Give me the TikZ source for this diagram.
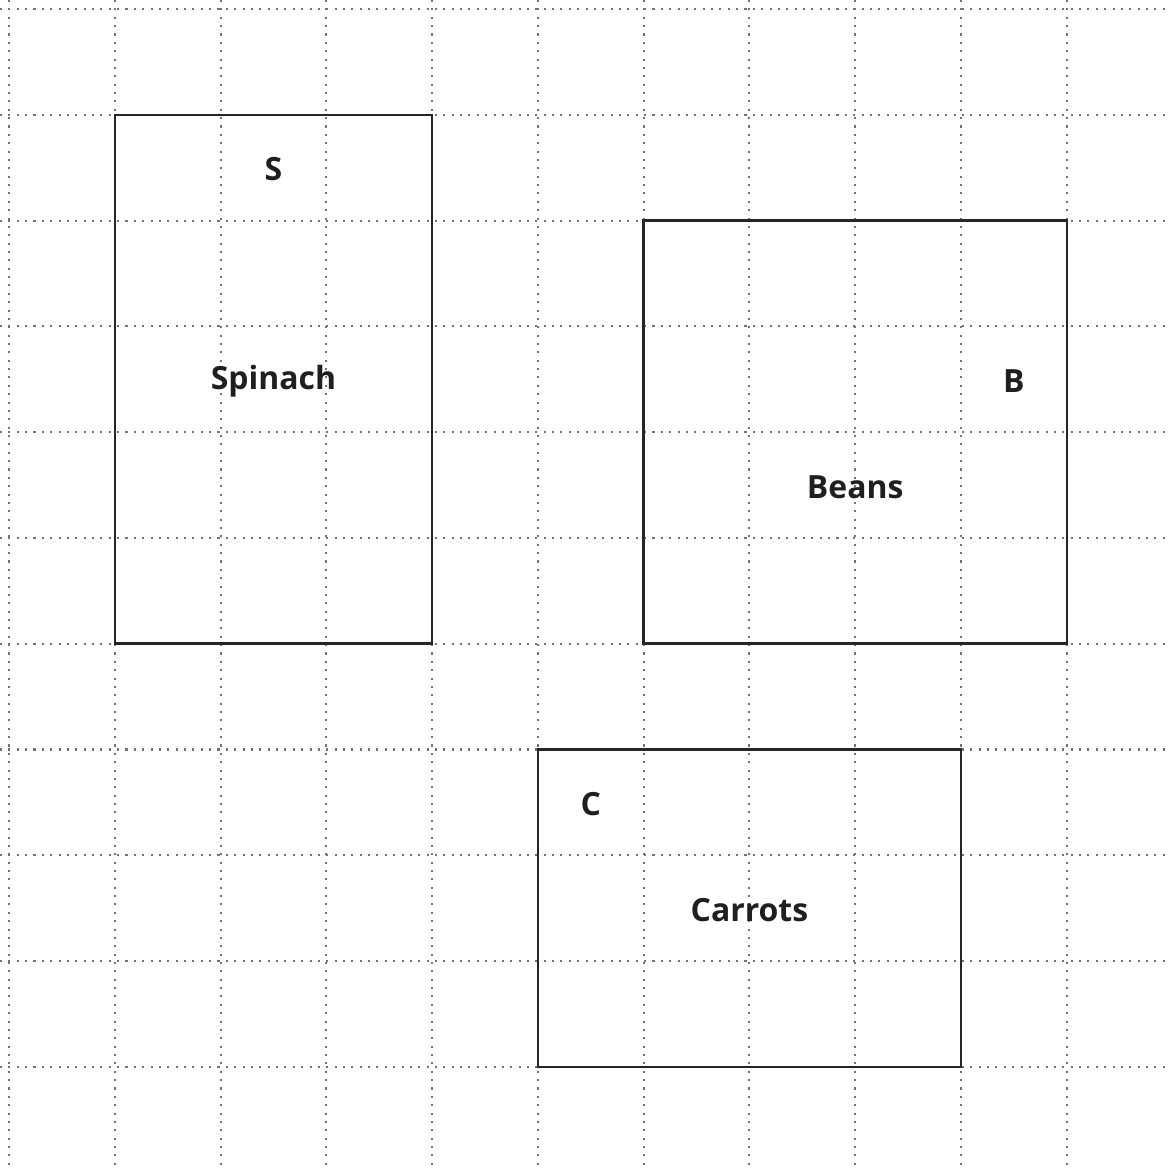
\documentclass[tikz,border=0pt]{standalone}
\usepackage{fontspec}
\setmainfont{Open Sans}
\usepackage{tikz}
\tikzstyle{gridline} = [draw=black!55, line width=0.55pt, dash pattern=on 0.55pt off 1.7pt]
\tikzstyle{bed} = [draw=black!85, line width=0.65pt]
\tikzstyle{bedlabel} = [font=\fontsize{8.6}{10}\selectfont\bfseries, text=black!88, inner sep=0pt, yshift=-0.5pt]

\begin{document}
\begin{tikzpicture}
        \useasboundingbox (-0.085,0.085) rectangle (10.985,-10.985);

        % Grid
        \foreach \k in {0,...,10} {
            \draw[gridline] (\k,0.085) -- (\k,-10.985);
            \draw[gridline] (-0.085,-\k) -- (10.985,-\k);
        }

        % Beds
        \draw[bed] (1,-1) rectangle (4,-6);
        \draw[bed] (6,-2) rectangle (10,-6);
        \draw[bed] (5,-7) rectangle (9,-10);

        % Labels
        \node[bedlabel] (s_0) at (2.5,-1.5) {S};
        \node[bedlabel] (s_1) at (2.5,-3.5) {Spinach};
        \node[bedlabel] (b_0) at (9.5,-3.5) {B};
        \node[bedlabel] (b_1) at (8,-4.5) {Beans};
        \node[bedlabel] (c_0) at (5.5,-7.5) {C};
        \node[bedlabel] (c_1) at (7,-8.5) {Carrots};
     \end{tikzpicture}
\end{document}
